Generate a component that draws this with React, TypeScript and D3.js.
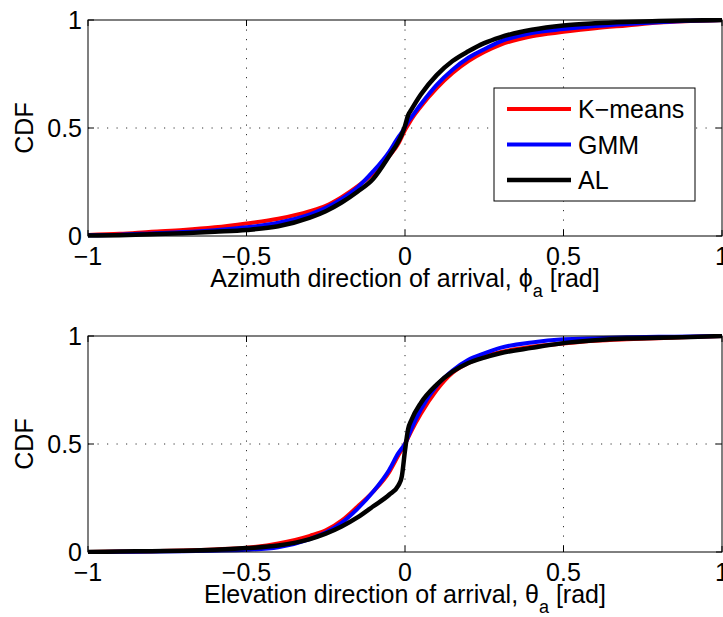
import React from "react";
import * as d3 from "d3";

const xGrid = [-1, -0.9, -0.8, -0.7, -0.6, -0.5, -0.4, -0.3, -0.25, -0.2, -0.15, -0.1, -0.05, -0.02, -0.01, 0, 0.01, 0.02, 0.05, 0.1, 0.15, 0.2, 0.25, 0.3, 0.4, 0.5, 0.6, 0.7, 0.8, 0.9, 1];

const azKmeans = [0.005, 0.01, 0.02, 0.028, 0.04, 0.058, 0.08, 0.115, 0.14, 0.18, 0.23, 0.29, 0.37, 0.43, 0.46, 0.49, 0.515, 0.54, 0.6, 0.685, 0.755, 0.81, 0.852, 0.885, 0.925, 0.945, 0.962, 0.975, 0.988, 0.995, 1];
const azGmm = [0.003, 0.006, 0.012, 0.018, 0.027, 0.04, 0.062, 0.1, 0.13, 0.172, 0.225, 0.3, 0.39, 0.46, 0.48, 0.505, 0.53, 0.55, 0.61, 0.7, 0.77, 0.825, 0.865, 0.9, 0.94, 0.958, 0.972, 0.982, 0.99, 0.996, 1];
const azAl = [0.002, 0.004, 0.008, 0.013, 0.02, 0.028, 0.045, 0.085, 0.115, 0.155, 0.205, 0.265, 0.37, 0.44, 0.47, 0.51, 0.56, 0.585, 0.655, 0.745, 0.81, 0.855, 0.893, 0.92, 0.955, 0.975, 0.985, 0.991, 0.995, 0.998, 1];

const elKmeans = [0, 0.002, 0.004, 0.007, 0.012, 0.02, 0.04, 0.075, 0.1, 0.145, 0.21, 0.28, 0.37, 0.45, 0.475, 0.5, 0.53, 0.56, 0.64, 0.75, 0.83, 0.875, 0.905, 0.925, 0.95, 0.965, 0.978, 0.985, 0.99, 0.995, 1];
const elGmm = [0, 0.001, 0.002, 0.004, 0.006, 0.01, 0.022, 0.06, 0.09, 0.135, 0.2, 0.28, 0.38, 0.46, 0.48, 0.5, 0.535, 0.57, 0.66, 0.77, 0.84, 0.89, 0.92, 0.945, 0.97, 0.985, 0.99, 0.994, 0.996, 0.998, 1];
const elAl = [0, 0.002, 0.004, 0.006, 0.01, 0.018, 0.03, 0.06, 0.085, 0.118, 0.16, 0.212, 0.265, 0.31, 0.35, 0.47, 0.57, 0.61, 0.69, 0.775, 0.835, 0.875, 0.9, 0.92, 0.945, 0.967, 0.98, 0.988, 0.992, 0.995, 1];

const seriesNames = ["K\u2212means", "GMM", "AL"];
const seriesColors = ["#ff0000", "#0000ff", "#000000"];
const xTicks = [-1, -0.5, 0, 0.5, 1];
const yTicks = [0, 0.5, 1];
const xTickLabels = ["\u22121", "\u22120.5", "0", "0.5", "1"];
const yTickLabels = ["0", "0.5", "1"];

const W = 723;
const H = 617;
const FONT = "'Liberation Sans', Arial, Helvetica, sans-serif";
const FS = 25;

type PanelProps = {
  top: number;
  data: number[][];
  sym: string;
  prefix: string;
  legend: boolean;
  id: string;
};

function Panel({ top, data, sym, prefix, legend, id }: PanelProps) {
  const left = 88, right = 722, height = 216;
  const x = d3.scaleLinear().domain([-1, 1]).range([left, right]);
  const y = d3.scaleLinear().domain([0, 1]).range([top + height, top]);
  const line = d3
    .line<number>()
    .x((_, i) => x(xGrid[i]))
    .y((v) => y(v))
    .curve(d3.curveMonotoneX);
  const bottom = top + height;
  const tl = 6;
  return (
    <g>
      <defs>
        <clipPath id={id}>
          <rect x={left} y={top - 2} width={right - left} height={height + 4} />
        </clipPath>
      </defs>
      {xTicks.slice(1, -1).map((t) => (
        <line key={"gx" + t} x1={x(t)} x2={x(t)} y1={top} y2={bottom} stroke="#333" strokeWidth={1} strokeDasharray="1.2,8.3" />
      ))}
      {yTicks.slice(1, -1).map((t) => (
        <line key={"gy" + t} x1={left} x2={right} y1={y(t)} y2={y(t)} stroke="#333" strokeWidth={1} strokeDasharray="1.2,8.3" />
      ))}
      <g clipPath={`url(#${id})`}>
        {data.map((s, i) => (
          <path key={i} d={line(s) || ""} fill="none" stroke={seriesColors[i]} strokeWidth={i === 2 ? 4.5 : 4} strokeLinejoin="round" />
        ))}
      </g>
      <rect x={left} y={top} width={right - left} height={height} fill="none" stroke="#000" strokeWidth={1} />
      {xTicks.map((t) => (
        <g key={"tx" + t}>
          <line x1={x(t)} x2={x(t)} y1={bottom} y2={bottom - tl} stroke="#000" />
          <line x1={x(t)} x2={x(t)} y1={top} y2={top + tl} stroke="#000" />
        </g>
      ))}
      {yTicks.map((t) => (
        <g key={"ty" + t}>
          <line x1={left} x2={left + tl} y1={y(t)} y2={y(t)} stroke="#000" />
          <line x1={right} x2={right - tl} y1={y(t)} y2={y(t)} stroke="#000" />
        </g>
      ))}
      {xTicks.map((t, i) => (
        <text key={"lx" + t} x={x(t)} y={bottom + 29} textAnchor="middle" fontFamily={FONT} fontSize={FS}>
          {xTickLabels[i]}
        </text>
      ))}
      {yTicks.map((t, i) => (
        <text key={"ly" + t} x={left - 6} y={y(t) + 9} textAnchor="end" fontFamily={FONT} fontSize={FS}>
          {yTickLabels[i]}
        </text>
      ))}
      <text x={(left + right) / 2} y={bottom + 51} textAnchor="middle" fontFamily={FONT} fontSize={FS}>
        {prefix}
        {sym}
        <tspan fontSize={18} dy={10}>a</tspan>
        <tspan dy={-10}> [rad]</tspan>
      </text>
      <text transform={`translate(33,${top + height / 2}) rotate(-90)`} textAnchor="middle" fontFamily={FONT} fontSize={FS}>
        CDF
      </text>
      {legend && (
        <g>
          <rect x={494} y={88} width={201} height={113} fill="#fff" stroke="#000" strokeWidth={1} />
          {seriesNames.map((n, i) => (
            <g key={n}>
              <line x1={507} x2={571} y1={109 + i * 35.5} y2={109 + i * 35.5} stroke={seriesColors[i]} strokeWidth={i === 2 ? 4.5 : 4} />
              <text x={578} y={109 + i * 35.5 + 9} fontFamily={FONT} fontSize={FS}>{n}</text>
            </g>
          ))}
        </g>
      )}
    </g>
  );
}

export default function App() {
  return (
    <svg width={W} height={H} style={{ position: "absolute", left: 0, top: 0, background: "#fff" }}>
      <rect x={0} y={0} width={W} height={H} fill="#fff" />
      <Panel top={20} data={[azKmeans, azGmm, azAl]} sym={"\u03D5"} prefix="Azimuth direction of arrival, " legend={true} id="c1" />
      <Panel top={336} data={[elKmeans, elGmm, elAl]} sym={"\u03B8"} prefix="Elevation direction of arrival, " legend={false} id="c2" />
    </svg>
  );
}
